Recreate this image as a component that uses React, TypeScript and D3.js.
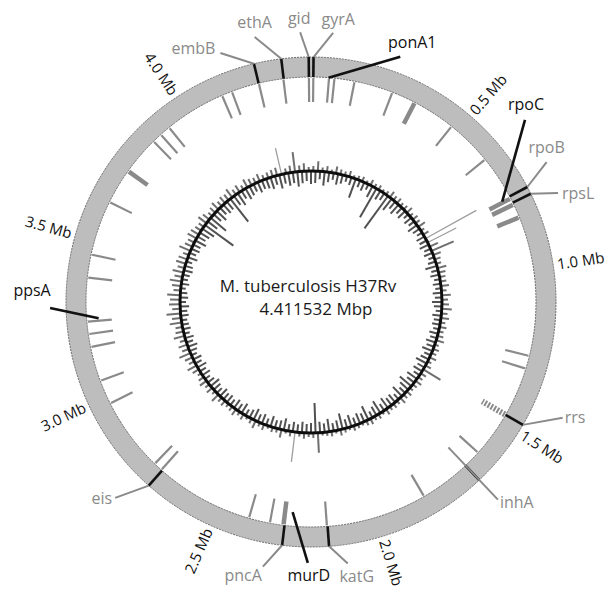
import * as d3 from "d3";

// genome size (bp)
const GENOME_BP = 4411532;

// Mb scale labels
const mbTicks = [0.5, 1.0, 1.5, 2.0, 2.5, 3.0, 3.5, 4.0];
const mbLabels = ["0.5 Mb", "1.0 Mb", "1.5 Mb", "2.0 Mb", "2.5 Mb", "3.0 Mb", "3.5 Mb", "4.0 Mb"];

// labelled genes (position in bp)
const geneNames = ["embB", "ethA", "gid", "gyrA", "ponA1", "rpoC", "rpoB", "rpsL", "rrs", "inhA", "katG", "murD", "pncA", "eis", "ppsA"];
const genePos = [4246500, 4326000, 4405000, 7300, 55000, 763400, 759800, 781600, 1471800, 1674200, 2153900, 2267000, 2288700, 2714000, 3255000];
const geneBlack = [false, false, false, false, true, true, false, false, false, false, false, true, false, false, true];

// grey ticks inside the ring (Mb)
const tickMb = [0.0073, 0.0564, 0.0735, 0.137, 0.26, 0.474, 0.621, 1.273, 1.314, 1.618, 1.836, 2.156, 2.335, 2.402, 2.717, 2.745, 2.98, 3.057, 3.167, 3.208, 3.247, 3.385, 3.458, 3.632, 3.867, 3.898, 3.932, 4.126, 4.159, 4.247, 4.325, 4.405];
const wideTickMb = [0.337, 0.767, 0.788, 0.832, 2.292, 3.745];
const rrnaMb = [1.4718];

// skew-like plot, 2 degree bins, outward and inward heights
const skewOut = [
  5, 10, 4, 6, 3, 7, 5, 4, 6, 3,
  4, 5, 3, 6, 4, 5, 3, 4, 7, 5,
  6, 4, 5, 7, 4, 6, 5, 8, 4, 6,
  58, 32, 9, 24, 8, 6, 5, 9, 7, 6,
  6, 8, 5, 9, 6, 7, 10, 6, 8, 5,
  7, 5, 6, 8, 4, 6, 5, 7, 4, 6,
  20, 6, 5, 7, 5, 4, 6, 5, 7, 4,
  5, 4, 6, 3, 5, 4, 6, 5, 3, 4,
  5, 3, 4, 6, 3, 5, 4, 3, 20, 5,
  4, 6, 4, 30, 5, 3, 8, 4, 5, 3,
  6, 4, 8, 5, 3, 6, 4, 7, 5, 4,
  6, 5, 9, 4, 7, 5, 8, 6, 4, 7,
  10, 6, 8, 12, 7, 9, 6, 11, 8, 7,
  12, 9, 14, 8, 11, 10, 13, 7, 9, 12,
  8, 11, 7, 10, 9, 6, 12, 8, 7, 10,
  9, 7, 6, 10, 8, 5, 7, 9, 6, 8,
  7, 10, 6, 8, 5, 9, 7, 6, 8, 5,
  6, 7, 8, 27, 5, 7, 20, 6, 8, 4,
];
const skewIn = [
  12, 8, 14, 10, 7, 11, 9, 6, 8, 20,
  7, 9, 6, 12, 33, 10, 8, 40, 14, 9,
  12, 8, 10, 6, 9, 7, 11, 8, 6, 9,
  8, 10, 7, 9, 6, 8, 12, 7, 9, 6,
  8, 6, 9, 7, 10, 8, 6, 9, 7, 8,
  6, 9, 7, 10, 8, 11, 7, 9, 12, 8,
  10, 7, 12, 9, 15, 11, 8, 13, 7, 10,
  9, 12, 8, 14, 10, 7, 15, 9, 11, 8,
  12, 9, 16, 10, 8, 13, 9, 11, 30, 10,
  9, 11, 8, 10, 7, 12, 9, 8, 11, 7,
  10, 8, 12, 9, 7, 11, 8, 10, 7, 9,
  8, 10, 7, 9, 11, 8, 6, 9, 7, 10,
  7, 9, 6, 8, 10, 7, 9, 6, 8, 7,
  6, 8, 7, 9, 6, 8, 7, 5, 8, 6,
  7, 9, 8, 6, 10, 7, 9, 8, 12, 9,
  11, 14, 35, 12, 20, 10, 13, 9, 11, 10,
  29, 11, 14, 9, 12, 10, 8, 11, 9, 10,
  12, 9, 14, 10, 13, 11, 15, 12, 10, 13,
];

// layout
const W = 615;
const H = 590;
const CX = 311;
const CY = 302;
const R_IN = 225;
const R_OUT = 245;
const R_SKEW = 131;
const FONT = "'Open Sans', 'DejaVu Sans', sans-serif";
const GREY = "#8a8a8a";

// where each gene's leader ends (angle in degrees, radius) and how its text sits
const LABEL: Record<string, { a: number; r: number; r0: number; dx: number; dy: number; anchor: string }> = {
  embB: { a: 340, r: 265, r0: R_OUT, dx: -5, dy: 1, anchor: "end" },
  ethA: { a: 348, r: 271, r0: R_OUT, dx: 0, dy: -9, anchor: "middle" },
  gid: { a: 357.7, r: 270, r0: R_OUT, dx: -1, dy: -8, anchor: "middle" },
  gyrA: { a: 4.7, r: 270, r0: R_OUT, dx: 5, dy: -8, anchor: "middle" },
  ponA1: { a: 20, r: 261, r0: R_IN, dx: 12, dy: -9, anchor: "middle" },
  rpoC: { a: 49.6, r: 281, r0: 216, dx: 1, dy: -10, anchor: "middle" },
  rpoB: { a: 59.3, r: 274, r0: R_OUT, dx: 0, dy: -9, anchor: "middle" },
  rpsL: { a: 66.2, r: 270, r0: R_OUT, dx: 4, dy: 6, anchor: "start" },
  rrs: { a: 114.7, r: 277, r0: R_OUT, dx: 2, dy: 5, anchor: "start" },
  inhA: { a: 136.6, r: 272, r0: 200, dx: 2, dy: 8, anchor: "start" },
  katG: { a: 172, r: 264, r0: R_OUT, dx: 9, dy: 19, anchor: "middle" },
  murD: { a: 180.7, r: 261, r0: 211, dx: 1, dy: 18, anchor: "middle" },
  pncA: { a: 190.3, r: 269, r0: R_OUT, dx: -1, dy: 14, anchor: "end" },
  eis: { a: 225, r: 277, r0: R_OUT, dx: -3, dy: 6, anchor: "end" },
  ppsA: { a: 268.7, r: 261, r0: 213, dx: -18, dy: -12, anchor: "middle" },
};

const polar = (deg: number, r: number): [number, number] => {
  const t = (deg * Math.PI) / 180;
  return [CX + r * Math.sin(t), CY - r * Math.cos(t)];
};

export default function App() {
  const angle = d3.scaleLinear().domain([0, GENOME_BP]).range([0, 360]);
  const mbAngle = d3.scaleLinear().domain([0, GENOME_BP / 1e6]).range([0, 360]);
  const binOut = d3.scaleLinear().domain([0, skewOut.length]).range([0, 360]);
  const binIn = d3.scaleLinear().domain([0, skewIn.length]).range([0, 360]);

  const ringArc = d3.arc()({
    innerRadius: R_IN,
    outerRadius: R_OUT,
    startAngle: 0,
    endAngle: 2 * Math.PI,
  }) as string;

  const radial = (deg: number, r1: number, r2: number) => {
    const [x1, y1] = polar(deg, r1);
    const [x2, y2] = polar(deg, r2);
    return { x1, y1, x2, y2 };
  };

  return (
    <svg width={W} height={H} style={{ position: "absolute", left: 0, top: 0, background: "#fff" }}>
      <defs>
        <filter id="soft" x="-10%" y="-10%" width="120%" height="120%">
          <feGaussianBlur stdDeviation="0.55" />
        </filter>
      </defs>

      {/* ring */}
      <g transform={`translate(${CX},${CY})`}>
        <path d={ringArc} fill="#bdbdbd" stroke="none" />
        <circle r={R_IN} fill="none" stroke="#6e6e6e" strokeWidth={1} strokeDasharray="2,1" />
        <circle r={R_OUT} fill="none" stroke="#6e6e6e" strokeWidth={1} strokeDasharray="2,1" />
      </g>

      {/* grey ticks */}
      {tickMb.map((m, i) => (
        <line key={"t" + i} {...radial(mbAngle(m), 224, 200)} stroke={GREY} strokeWidth={2.2} />
      ))}
      {wideTickMb.map((m, i) => (
        <line key={"w" + i} {...radial(mbAngle(m), 224, 201)} stroke={GREY} strokeWidth={4.5} />
      ))}
      {rrnaMb.map((m, i) => (
        <line key={"rr" + i} {...radial(mbAngle(m), 224, 198)} stroke={GREY} strokeWidth={6} strokeDasharray="2,1.5" />
      ))}

      {/* skew plot */}
      <g filter="url(#soft)">
        {skewOut.map((v, i) => (
          <line key={"o" + i} {...radial(binOut(i + 0.5), R_SKEW, R_SKEW + v)}
            stroke={v > 25 ? "#8c8c8c" : "#555"} strokeWidth={v > 25 ? 1.3 : 2} strokeOpacity={0.85} />
        ))}
        {skewIn.map((v, i) => (
          <line key={"n" + i} {...radial(binIn(i + 0.5) + 1, R_SKEW, R_SKEW - v)}
            stroke="#333" strokeWidth={2} strokeOpacity={0.85} />
        ))}
        <circle cx={CX} cy={CY} r={R_SKEW} fill="none" stroke="#111" strokeWidth={3} />
      </g>

      {/* genes: marks on the ring, leaders and labels */}
      {geneNames.map((g, i) => {
        const L = LABEL[g];
        const a = angle(genePos[i]);
        const [sx, sy] = polar(a, L.r0);
        const [ex, ey] = polar(L.a, L.r);
        const col = geneBlack[i] ? "#111" : GREY;
        return (
          <g key={g}>
            {!geneBlack[i] && (
              <line {...radial(a, R_IN, R_OUT)} stroke="#111" strokeWidth={2.6} />
            )}
            <line x1={sx} y1={sy} x2={ex} y2={ey} stroke={col} strokeWidth={geneBlack[i] ? 2.6 : 2} />
            <text x={ex + L.dx} y={ey + L.dy} textAnchor={L.anchor} fontFamily={FONT} fontSize={16} fill={col}>
              {g}
            </text>
          </g>
        );
      })}

      {/* Mb labels */}
      {mbTicks.map((m, i) => {
        const a = mbAngle(m);
        const right = a < 180;
        const [x, y] = polar(a, 249);
        const rot = right ? a - 90 : a - 270;
        return (
          <text key={"mb" + i} x={x} y={y} transform={`rotate(${rot},${x},${y})`}
            textAnchor={right ? "start" : "end"} dominantBaseline="middle"
            fontFamily={FONT} fontSize={15} fill="#111">
            {mbLabels[i]}
          </text>
        );
      })}

      {/* centre title */}
      <text x={308} y={292} textAnchor="middle" fontFamily={FONT} fontSize={17} fill="#1a1a1a">
        M. tuberculosis H37Rv
      </text>
      <text x={316} y={315} textAnchor="middle" fontFamily={FONT} fontSize={17} fill="#1a1a1a">
        4.411532 Mbp
      </text>
    </svg>
  );
}
